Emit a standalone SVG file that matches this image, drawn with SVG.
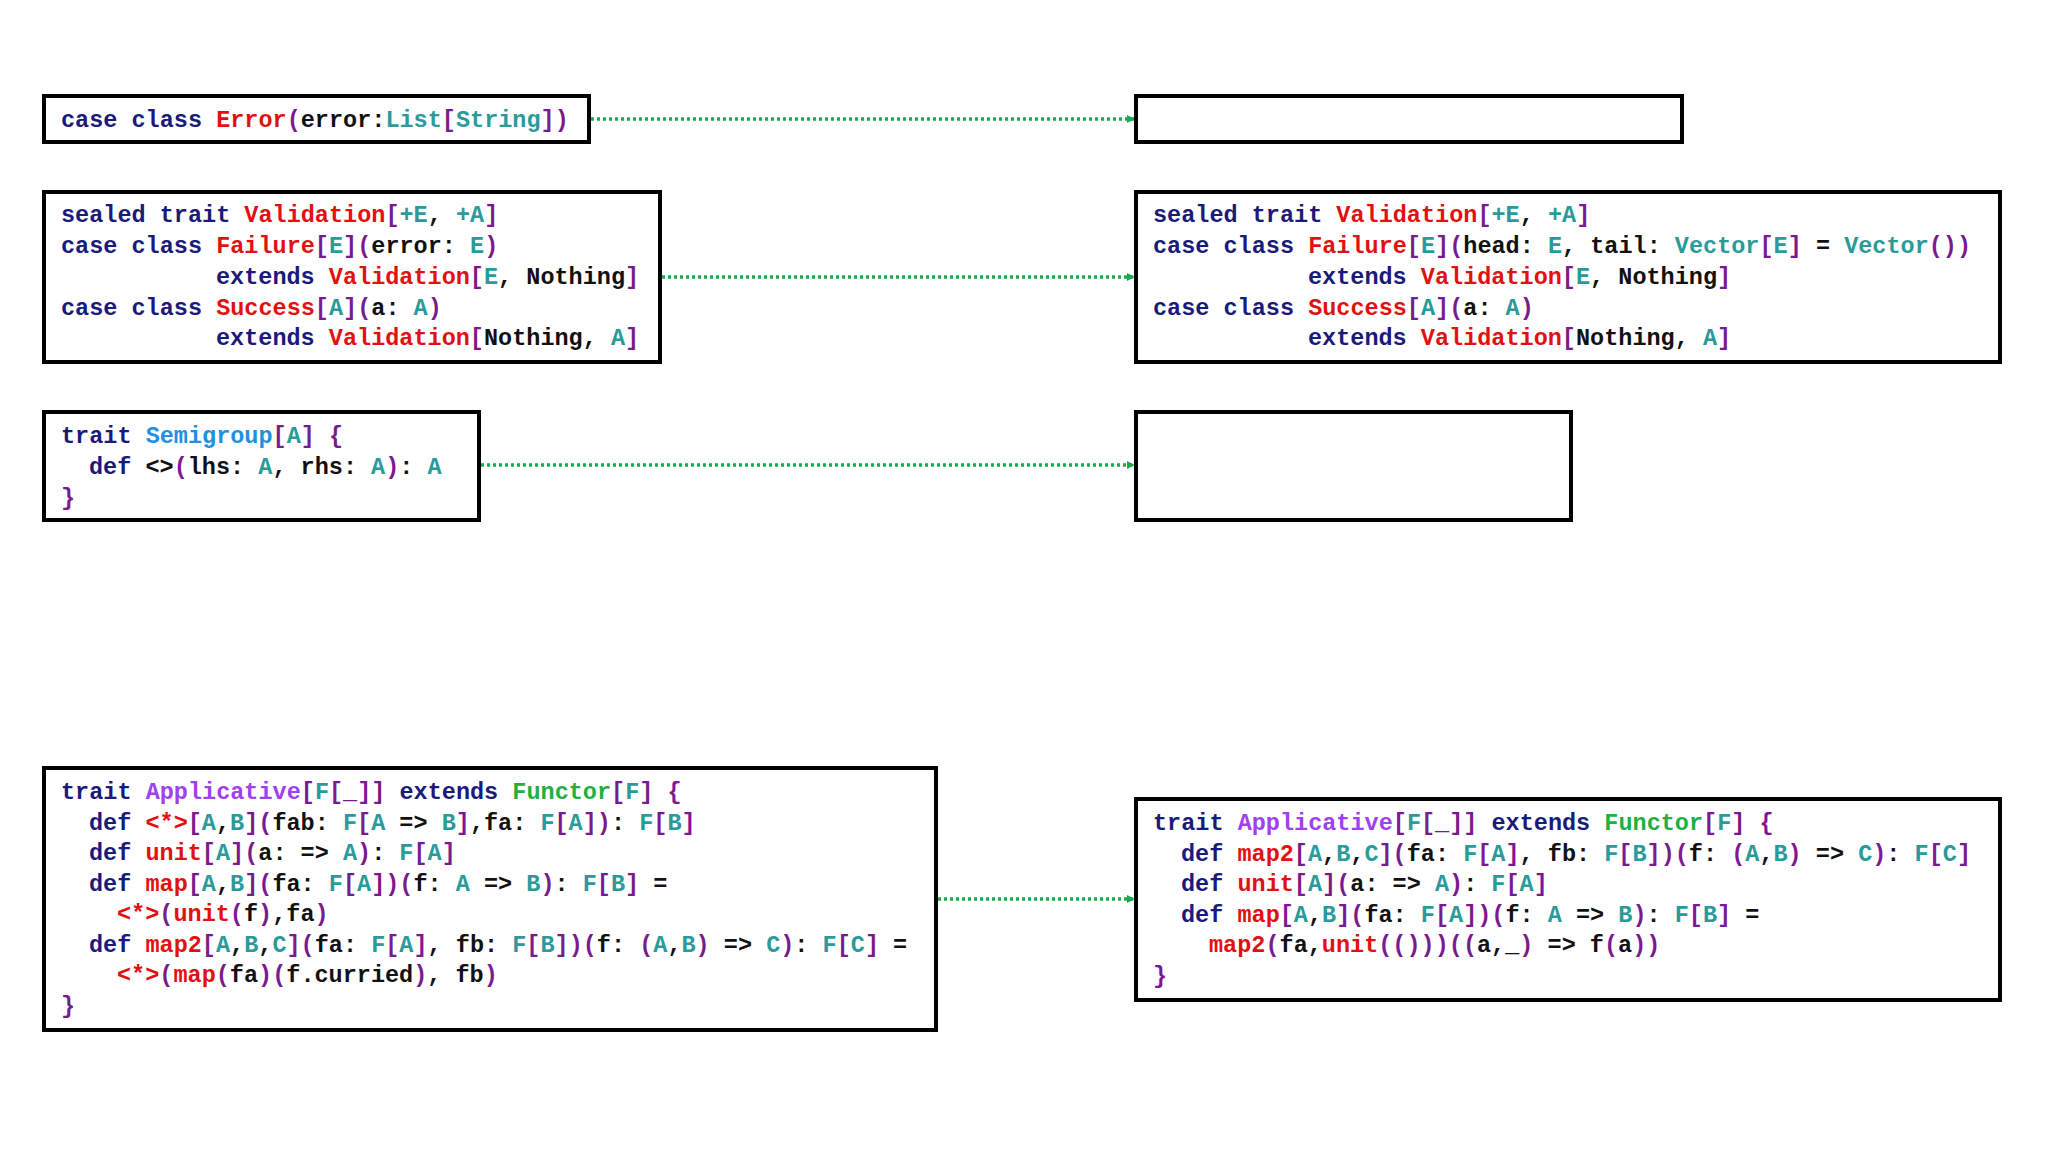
<svg xmlns="http://www.w3.org/2000/svg" width="2048" height="1152" viewBox="0 0 2048 1152">
<style>
text{font-family:"Liberation Mono","DejaVu Sans Mono",monospace;font-size:23.5px;font-weight:bold;fill:#111}
.k{fill:#1a1a7a}.r{fill:#e31010}.t{fill:#2a9a9a}.p{fill:#7a1a90}.b{fill:#2090e0}.v{fill:#a040f0}.g{fill:#20b040}
.box{fill:#fff;stroke:#000;stroke-width:4}
.c{stroke:#1aaa50;stroke-width:3.5;stroke-dasharray:3 3;fill:none;marker-end:url(#ah)}
</style>
<defs><marker id="ah" markerWidth="8" markerHeight="8" refX="7" refY="4" orient="auto" markerUnits="userSpaceOnUse"><path d="M0,0 L8,4 L0,8 z" fill="#1aaa50"/></marker></defs>
<rect width="2048" height="1152" fill="#fff"/>
<g id="connectors">
<line class="c" x1="591" y1="119" x2="1134" y2="119"/>
<line class="c" x1="662" y1="277" x2="1134" y2="277"/>
<line class="c" x1="481" y1="465" x2="1134" y2="465"/>
<line class="c" x1="938" y1="899" x2="1134" y2="899"/>
</g>
<g id="error">
<rect class="box" x="44" y="96" width="545" height="46"/>
<text x="61" y="127"><tspan class="k">case class </tspan><tspan class="r">Error</tspan><tspan class="p">(</tspan>error:<tspan class="t">List</tspan><tspan class="p">[</tspan><tspan class="t">String</tspan><tspan class="p">])</tspan></text>
</g>
<g id="empty1"><rect class="box" x="1136" y="96" width="546" height="46"/></g>
<g id="validation-left">
<rect class="box" x="44" y="192" width="616" height="170"/>
<text x="61" y="222"><tspan class="k">sealed trait </tspan><tspan class="r">Validation</tspan><tspan class="p">[</tspan><tspan class="t">+E</tspan>, <tspan class="t">+A</tspan><tspan class="p">]</tspan></text>
<text x="61" y="253"><tspan class="k">case class </tspan><tspan class="r">Failure</tspan><tspan class="p">[</tspan><tspan class="t">E</tspan><tspan class="p">](</tspan>error: <tspan class="t">E</tspan><tspan class="p">)</tspan></text>
<text x="216" y="284"><tspan class="k">extends </tspan><tspan class="r">Validation</tspan><tspan class="p">[</tspan><tspan class="t">E</tspan>, Nothing<tspan class="p">]</tspan></text>
<text x="61" y="315"><tspan class="k">case class </tspan><tspan class="r">Success</tspan><tspan class="p">[</tspan><tspan class="t">A</tspan><tspan class="p">](</tspan>a: <tspan class="t">A</tspan><tspan class="p">)</tspan></text>
<text x="216" y="345"><tspan class="k">extends </tspan><tspan class="r">Validation</tspan><tspan class="p">[</tspan>Nothing, <tspan class="t">A</tspan><tspan class="p">]</tspan></text>
</g>
<g id="validation-right">
<rect class="box" x="1136" y="192" width="864" height="170"/>
<text x="1153" y="222"><tspan class="k">sealed trait </tspan><tspan class="r">Validation</tspan><tspan class="p">[</tspan><tspan class="t">+E</tspan>, <tspan class="t">+A</tspan><tspan class="p">]</tspan></text>
<text x="1153" y="253"><tspan class="k">case class </tspan><tspan class="r">Failure</tspan><tspan class="p">[</tspan><tspan class="t">E</tspan><tspan class="p">](</tspan>head: <tspan class="t">E</tspan>, tail: <tspan class="t">Vector</tspan><tspan class="p">[</tspan><tspan class="t">E</tspan><tspan class="p">]</tspan> = <tspan class="t">Vector</tspan><tspan class="p">())</tspan></text>
<text x="1308" y="284"><tspan class="k">extends </tspan><tspan class="r">Validation</tspan><tspan class="p">[</tspan><tspan class="t">E</tspan>, Nothing<tspan class="p">]</tspan></text>
<text x="1153" y="315"><tspan class="k">case class </tspan><tspan class="r">Success</tspan><tspan class="p">[</tspan><tspan class="t">A</tspan><tspan class="p">](</tspan>a: <tspan class="t">A</tspan><tspan class="p">)</tspan></text>
<text x="1308" y="345"><tspan class="k">extends </tspan><tspan class="r">Validation</tspan><tspan class="p">[</tspan>Nothing, <tspan class="t">A</tspan><tspan class="p">]</tspan></text>
</g>
<g id="semigroup">
<rect class="box" x="44" y="412" width="435" height="108"/>
<text x="61" y="443"><tspan class="k">trait </tspan><tspan class="b">Semigroup</tspan><tspan class="p">[</tspan><tspan class="t">A</tspan><tspan class="p">] {</tspan></text>
<text x="89" y="474"><tspan class="k">def </tspan>&lt;&gt;<tspan class="p">(</tspan>lhs: <tspan class="t">A</tspan>, rhs: <tspan class="t">A</tspan><tspan class="p">)</tspan>: <tspan class="t">A</tspan></text>
<text x="61" y="505"><tspan class="p">}</tspan></text>
</g>
<g id="empty3"><rect class="box" x="1136" y="412" width="435" height="108"/></g>
<g id="applicative-left">
<rect class="box" x="44" y="768" width="892" height="262"/>
<text x="61" y="799"><tspan class="k">trait </tspan><tspan class="v">Applicative</tspan><tspan class="p">[</tspan><tspan class="t">F</tspan><tspan class="p">[_]]</tspan><tspan class="k"> extends </tspan><tspan class="g">Functor</tspan><tspan class="p">[</tspan><tspan class="t">F</tspan><tspan class="p">] {</tspan></text>
<text x="89" y="830"><tspan class="k">def </tspan><tspan class="r">&lt;*&gt;</tspan><tspan class="p">[</tspan><tspan class="t">A</tspan>,<tspan class="t">B</tspan><tspan class="p">](</tspan>fab: <tspan class="t">F</tspan><tspan class="p">[</tspan><tspan class="t">A</tspan> =&gt; <tspan class="t">B</tspan><tspan class="p">]</tspan>,fa: <tspan class="t">F</tspan><tspan class="p">[</tspan><tspan class="t">A</tspan><tspan class="p">])</tspan>: <tspan class="t">F</tspan><tspan class="p">[</tspan><tspan class="t">B</tspan><tspan class="p">]</tspan></text>
<text x="89" y="860"><tspan class="k">def </tspan><tspan class="r">unit</tspan><tspan class="p">[</tspan><tspan class="t">A</tspan><tspan class="p">](</tspan>a: =&gt; <tspan class="t">A</tspan><tspan class="p">)</tspan>: <tspan class="t">F</tspan><tspan class="p">[</tspan><tspan class="t">A</tspan><tspan class="p">]</tspan></text>
<text x="89" y="891"><tspan class="k">def </tspan><tspan class="r">map</tspan><tspan class="p">[</tspan><tspan class="t">A</tspan>,<tspan class="t">B</tspan><tspan class="p">](</tspan>fa: <tspan class="t">F</tspan><tspan class="p">[</tspan><tspan class="t">A</tspan><tspan class="p">])(</tspan>f: <tspan class="t">A</tspan> =&gt; <tspan class="t">B</tspan><tspan class="p">)</tspan>: <tspan class="t">F</tspan><tspan class="p">[</tspan><tspan class="t">B</tspan><tspan class="p">]</tspan> =</text>
<text x="117" y="921"><tspan class="r">&lt;*&gt;</tspan><tspan class="p">(</tspan><tspan class="r">unit</tspan><tspan class="p">(</tspan>f<tspan class="p">)</tspan>,fa<tspan class="p">)</tspan></text>
<text x="89" y="952"><tspan class="k">def </tspan><tspan class="r">map2</tspan><tspan class="p">[</tspan><tspan class="t">A</tspan>,<tspan class="t">B</tspan>,<tspan class="t">C</tspan><tspan class="p">](</tspan>fa: <tspan class="t">F</tspan><tspan class="p">[</tspan><tspan class="t">A</tspan><tspan class="p">]</tspan>, fb: <tspan class="t">F</tspan><tspan class="p">[</tspan><tspan class="t">B</tspan><tspan class="p">])(</tspan>f: <tspan class="p">(</tspan><tspan class="t">A</tspan>,<tspan class="t">B</tspan><tspan class="p">)</tspan> =&gt; <tspan class="t">C</tspan><tspan class="p">)</tspan>: <tspan class="t">F</tspan><tspan class="p">[</tspan><tspan class="t">C</tspan><tspan class="p">]</tspan> =</text>
<text x="117" y="982"><tspan class="r">&lt;*&gt;</tspan><tspan class="p">(</tspan><tspan class="r">map</tspan><tspan class="p">(</tspan>fa<tspan class="p">)(</tspan>f.curried<tspan class="p">)</tspan>, fb<tspan class="p">)</tspan></text>
<text x="61" y="1013"><tspan class="p">}</tspan></text>
</g>
<g id="applicative-right">
<rect class="box" x="1136" y="799" width="864" height="201"/>
<text x="1153" y="830"><tspan class="k">trait </tspan><tspan class="v">Applicative</tspan><tspan class="p">[</tspan><tspan class="t">F</tspan><tspan class="p">[_]]</tspan><tspan class="k"> extends </tspan><tspan class="g">Functor</tspan><tspan class="p">[</tspan><tspan class="t">F</tspan><tspan class="p">] {</tspan></text>
<text x="1181" y="861"><tspan class="k">def </tspan><tspan class="r">map2</tspan><tspan class="p">[</tspan><tspan class="t">A</tspan>,<tspan class="t">B</tspan>,<tspan class="t">C</tspan><tspan class="p">](</tspan>fa: <tspan class="t">F</tspan><tspan class="p">[</tspan><tspan class="t">A</tspan><tspan class="p">]</tspan>, fb: <tspan class="t">F</tspan><tspan class="p">[</tspan><tspan class="t">B</tspan><tspan class="p">])(</tspan>f: <tspan class="p">(</tspan><tspan class="t">A</tspan>,<tspan class="t">B</tspan><tspan class="p">)</tspan> =&gt; <tspan class="t">C</tspan><tspan class="p">)</tspan>: <tspan class="t">F</tspan><tspan class="p">[</tspan><tspan class="t">C</tspan><tspan class="p">]</tspan></text>
<text x="1181" y="891"><tspan class="k">def </tspan><tspan class="r">unit</tspan><tspan class="p">[</tspan><tspan class="t">A</tspan><tspan class="p">](</tspan>a: =&gt; <tspan class="t">A</tspan><tspan class="p">)</tspan>: <tspan class="t">F</tspan><tspan class="p">[</tspan><tspan class="t">A</tspan><tspan class="p">]</tspan></text>
<text x="1181" y="922"><tspan class="k">def </tspan><tspan class="r">map</tspan><tspan class="p">[</tspan><tspan class="t">A</tspan>,<tspan class="t">B</tspan><tspan class="p">](</tspan>fa: <tspan class="t">F</tspan><tspan class="p">[</tspan><tspan class="t">A</tspan><tspan class="p">])(</tspan>f: <tspan class="t">A</tspan> =&gt; <tspan class="t">B</tspan><tspan class="p">)</tspan>: <tspan class="t">F</tspan><tspan class="p">[</tspan><tspan class="t">B</tspan><tspan class="p">]</tspan> =</text>
<text x="1209" y="952"><tspan class="r">map2</tspan><tspan class="p">(</tspan>fa,<tspan class="r">unit</tspan><tspan class="p">(())</tspan><tspan class="p">)((</tspan>a,_<tspan class="p">)</tspan> =&gt; f<tspan class="p">(</tspan>a<tspan class="p">))</tspan></text>
<text x="1153" y="983"><tspan class="p">}</tspan></text>
</g>
</svg>
